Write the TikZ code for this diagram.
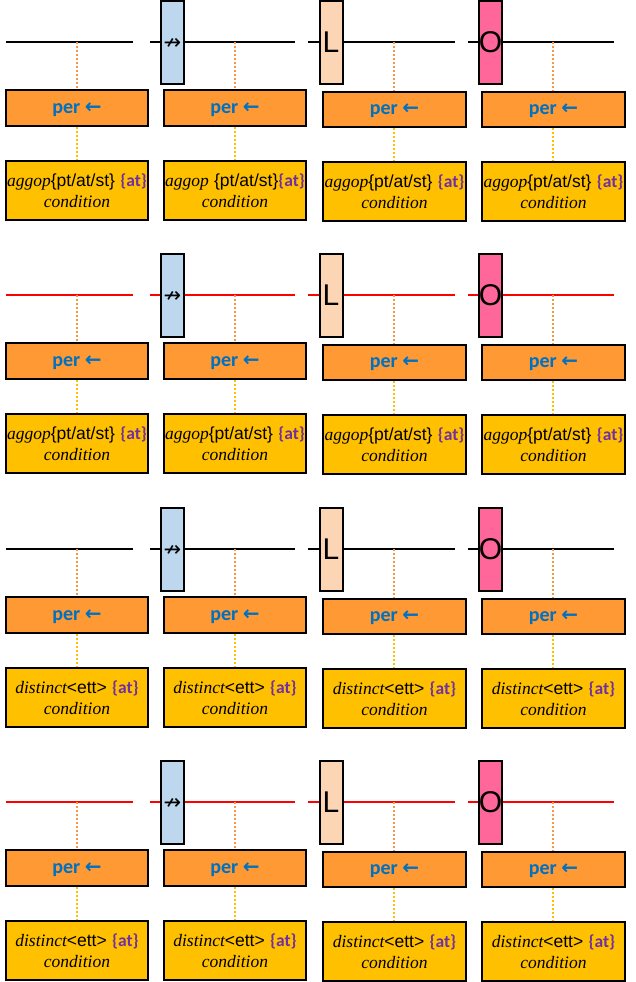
\documentclass[tikz,border=0pt]{standalone}
\usepackage{fontspec}
\newfontfamily\carl{Carlito}
\newfontfamily\ari{Liberation Sans}
\newfontfamily\dvs{DejaVu Sans}
\newfontfamily\tim{Liberation Serif}
\definecolor{boxorange}{RGB}{255,153,51}
\definecolor{boxyellow}{RGB}{255,192,0}
\definecolor{perblue}{RGB}{0,112,192}
\definecolor{atpurple}{RGB}{112,48,160}
\definecolor{dotorange}{RGB}{247,150,70}
\definecolor{tallblue}{RGB}{189,215,238}
\definecolor{tallpeach}{RGB}{252,213,181}
\definecolor{tallpink}{RGB}{255,102,153}
\newcommand\atlabel{{\carl\bfseries\color{atpurple}\{at\}}}
\newcommand\mi[1]{{\tim\itshape #1}}
\newcommand\aggA{\mi{aggop}{\ari\{pt/at/st\}} \atlabel\\\mi{condition}}
\newcommand\aggB{\mi{aggop} {\ari\{pt/at/st\}}\atlabel\\\mi{condition}}
\newcommand\distA{\mi{distinct}{\ari<ett>} \atlabel\\\mi{condition}}
\tikzset{
  seg/.style={line width=1.4pt},
  tallbox/.style={draw=black, line width=2pt, minimum width=23pt, minimum height=83pt, inner sep=0pt, font=\ari\fontsize{30}{30}\selectfont},
  perbox/.style={draw=black, fill=boxorange, line width=2pt, inner sep=0pt, text=perblue, text height=12pt, text depth=2pt, font=\carl\bfseries\fontsize{20}{22}\selectfont},
  condbox/.style={draw=black, fill=boxyellow, line width=2pt, minimum height=59pt, inner sep=0pt, align=center, font=\fontsize{17.5}{20.5}\selectfont},
  dotup/.style={draw=dotorange, line width=1.5pt, dash pattern=on 2pt off 2pt},
  dotdown/.style={draw=boxyellow, line width=1.5pt, dash pattern=on 2pt off 2pt},
}
\begin{document}
\begin{tikzpicture}[x=1pt,y=-1pt]
\useasboundingbox (0,0) rectangle (635,982);
\foreach \r/\y/\lc/\txt in {1/42/black/\aggA, 2/295/red/\aggA, 3/549/black/\distA, 4/802/red/\distA}{
  % line segments
  \foreach \c/\xs/\xe in {1/6/133, 2/150/295, 3/308/455, 4/468/614}{
    \coordinate (a\r\c) at (\xs,\y);
    \coordinate (b\r\c) at (\xe,\y);
    \draw[seg, draw=\lc] (a\r\c) -- (b\r\c);
  }
  % tall boxes
  \node[tallbox, fill=tallblue] (t\r2) at (172.5,\y+0.5) {};
  \node[font=\dvs\fontsize{21}{21}\selectfont, inner sep=0pt] (s\r2) at (172.5,\y+1.5) {↛};
  \node[tallbox, fill=tallpeach] (t\r3) at (331,\y+0.5) {L};
  \node[tallbox, fill=tallpink] (t\r4) at (490.5,\y+0.5) {O};
  % boxes
  \foreach \c/\xm/\xd/\w/\oh/\oy/\cy in {1/77/77/142/36/66/148.5, 2/235/235/142/36/66/148.5, 3/394.5/394/143/35/67.5/149.5, 4/553.5/553/143/35/67.5/149.5}{
    \coordinate (m\r\c) at (\xd,\y);
    \node[perbox, minimum width=\w pt, minimum height=\oh pt] (o\r\c) at (\xm,\y+\oy) {per {\dvs\bfseries ←}};
    \node[condbox, minimum width=\w pt] (c\r\c) at (\xm,\y+\cy) {\ifnum\r\c=12 \aggB\else\txt\fi};
    \draw[dotup] (m\r\c) -- (m\r\c |- o\r\c.north);
    \draw[dotdown] (m\r\c |- o\r\c.south) -- (m\r\c |- c\r\c.north);
  }
}
\end{tikzpicture}
\end{document}
